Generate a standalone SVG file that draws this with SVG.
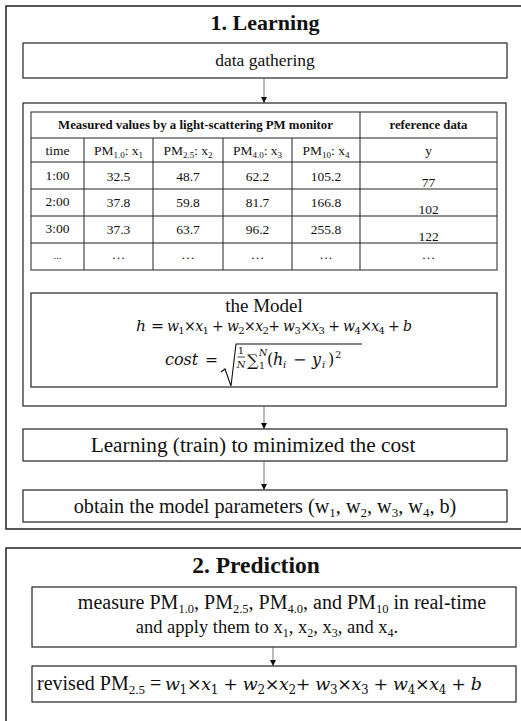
<svg xmlns="http://www.w3.org/2000/svg" width="521" height="721" viewBox="0 0 521 721">
<style>
  .box { fill: #fff; stroke: #222; stroke-width: 1.2; }
  .outer { fill: #fff; stroke: #222; stroke-width: 1.5; }
  .cell { fill: none; stroke: #222; stroke-width: 1; }
  .conn { stroke: #555; stroke-width: 0.8; fill: none; }
  .t { font-family: "Liberation Serif", serif; fill: #111; }
  .m { font-family: "DejaVu Serif", "Liberation Serif", serif; fill: #111; }
  .i { font-style: italic; }
  .c { text-anchor: middle; }
  .b { font-weight: bold; }
  .tab { font-size: 13.5px; }
</style>
<defs>
  <marker id="ah" viewBox="0 0 8 8" refX="8" refY="4" markerWidth="6" markerHeight="6" orient="auto" markerUnits="userSpaceOnUse">
    <path d="M0,0 L8,4 L0,8 z" fill="#111"/>
  </marker>
</defs>

<g id="learning-frame">
  <rect class="outer" x="6" y="6" width="530" height="523"/>
  <text class="t b c" x="265" y="30" font-size="22">1. Learning</text>
</g>

<g id="data-gathering">
  <rect class="box" x="23" y="43" width="484" height="35"/>
  <text class="t c" x="265" y="66" font-size="17.5">data gathering</text>
</g>

<g id="dataset-container">
  <rect class="box" x="23" y="103" width="483" height="303"/>
</g>

<g id="data-table">
  <rect class="cell" x="31" y="112" width="466" height="158"/>
  <path class="cell" d="M31,138H497 M31,162H497 M31,189H497 M31,216H497 M31,243H497 M360,112V270 M84,138V270 M153,138V270 M223,138V270 M292,138V270"/>
  <text class="t b c" x="195.5" y="129" font-size="12.8">Measured values by a light-scattering PM monitor</text>
  <text class="t b c" x="428.5" y="129" font-size="12.8">reference data</text>
  <g class="t tab">
    <text class="c" x="57.5" y="155">time</text>
    <text class="c" x="118.5" y="155">PM<tspan font-size="9" dy="3">1.0</tspan><tspan dy="-3">: x</tspan><tspan font-size="9" dy="3">1</tspan></text>
    <text class="c" x="188" y="155">PM<tspan font-size="9" dy="3">2.5</tspan><tspan dy="-3">: x</tspan><tspan font-size="9" dy="3">2</tspan></text>
    <text class="c" x="257.5" y="155">PM<tspan font-size="9" dy="3">4.0</tspan><tspan dy="-3">: x</tspan><tspan font-size="9" dy="3">3</tspan></text>
    <text class="c" x="326" y="155">PM<tspan font-size="9" dy="3">10</tspan><tspan dy="-3">: x</tspan><tspan font-size="9" dy="3">4</tspan></text>
    <text class="c" x="428.5" y="155">y</text>

    <text class="c" x="57.5" y="180">1:00</text>
    <text class="c" x="118.5" y="181">32.5</text>
    <text class="c" x="188" y="181">48.7</text>
    <text class="c" x="257.5" y="181">62.2</text>
    <text class="c" x="326" y="181">105.2</text>
    <text class="c" x="428.5" y="187">77</text>

    <text class="c" x="57.5" y="206">2:00</text>
    <text class="c" x="118.5" y="207">37.8</text>
    <text class="c" x="188" y="207">59.8</text>
    <text class="c" x="257.5" y="207">81.7</text>
    <text class="c" x="326" y="207">166.8</text>
    <text class="c" x="428.5" y="214">102</text>

    <text class="c" x="57.5" y="233">3:00</text>
    <text class="c" x="118.5" y="234">37.3</text>
    <text class="c" x="188" y="234">63.7</text>
    <text class="c" x="257.5" y="234">96.2</text>
    <text class="c" x="326" y="234">255.8</text>
    <text class="c" x="428.5" y="241">122</text>

    <text class="c" x="57.5" y="259" font-size="10">...</text>
    <text class="c" x="118.5" y="259">…</text>
    <text class="c" x="188" y="259">…</text>
    <text class="c" x="257.5" y="259">…</text>
    <text class="c" x="326" y="259">…</text>
    <text class="c" x="428.5" y="259">…</text>
  </g>
</g>

<g id="model">
  <rect class="box" x="31" y="293" width="466" height="94"/>
  <text class="t c" x="264" y="312" font-size="19">the Model</text>
  <text class="m" x="136" y="331" font-size="15.5"><tspan class="i">h</tspan> =</text>
  <text class="m" x="167" y="331" font-size="14" textLength="245" lengthAdjust="spacing"><tspan class="i">w</tspan><tspan font-size="10" dy="3">1</tspan><tspan dy="-3">×</tspan><tspan class="i">x</tspan><tspan font-size="10" dy="3">1</tspan><tspan dy="-3"> + </tspan><tspan class="i">w</tspan><tspan font-size="10" dy="3">2</tspan><tspan dy="-3">×</tspan><tspan class="i">x</tspan><tspan font-size="10" dy="3">2</tspan><tspan dy="-3">+ </tspan><tspan class="i">w</tspan><tspan font-size="10" dy="3">3</tspan><tspan dy="-3">×</tspan><tspan class="i">x</tspan><tspan font-size="10" dy="3">3</tspan><tspan dy="-3"> + </tspan><tspan class="i">w</tspan><tspan font-size="10" dy="3">4</tspan><tspan dy="-3">×</tspan><tspan class="i">x</tspan><tspan font-size="10" dy="3">4</tspan><tspan dy="-3"> + </tspan><tspan class="i">b</tspan></text>
  <text class="m i" x="165" y="365" font-size="16">cost</text>
  <text class="m" x="205" y="365" font-size="15.5">=</text>
  <polyline points="221,372 225,369 231,386 236,344 362,344" fill="none" stroke="#111" stroke-width="1.1"/>
  <text class="m c" x="241" y="354" font-size="10">1</text>
  <line x1="237.5" y1="357" x2="245" y2="357" stroke="#111" stroke-width="0.8"/>
  <text class="m i c" x="241" y="367.5" font-size="10">N</text>
  <text class="m" x="247" y="366" font-size="16">∑</text>
  <text class="m" x="259" y="369" font-size="9.5">1</text>
  <text class="m i" x="259" y="356" font-size="9.5">N</text>
  <text class="m" y="365" font-size="16"><tspan x="267">(</tspan><tspan class="i" x="273">h</tspan><tspan class="i" font-size="10" x="283" dy="3">i</tspan><tspan x="293" dy="-3">−</tspan><tspan class="i" x="312">y</tspan><tspan class="i" font-size="10" x="322" dy="3">i</tspan><tspan x="328" dy="-3">)</tspan><tspan font-size="10" x="335" dy="-7">2</tspan></text>
</g>

<g id="train">
  <rect class="box" x="23" y="429" width="484" height="32"/>
  <text class="t c" x="253" y="452" font-size="21.3">Learning (train) to minimized the cost</text>
</g>

<g id="obtain-params">
  <rect class="box" x="23" y="490" width="484" height="32"/>
  <text class="t c" x="265" y="513" font-size="20.2">obtain the model parameters (w<tspan font-size="13" dy="4">1</tspan><tspan dy="-4">, w</tspan><tspan font-size="13" dy="4">2</tspan><tspan dy="-4">, w</tspan><tspan font-size="13" dy="4">3</tspan><tspan dy="-4">, w</tspan><tspan font-size="13" dy="4">4</tspan><tspan dy="-4">, b)</tspan></text>
</g>

<g id="prediction-frame">
  <rect class="outer" x="6" y="548" width="530" height="190"/>
  <text class="t b c" x="256" y="573" font-size="23.5">2. Prediction</text>
</g>

<g id="measure">
  <rect class="box" x="32" y="587" width="484" height="60"/>
  <text class="t c" x="282" y="609" font-size="20">measure PM<tspan font-size="12.5" dy="4">1.0</tspan><tspan dy="-4">, PM</tspan><tspan font-size="12.5" dy="4">2.5</tspan><tspan dy="-4">, PM</tspan><tspan font-size="12.5" dy="4">4.0</tspan><tspan dy="-4">, and PM</tspan><tspan font-size="12.5" dy="4">10</tspan><tspan dy="-4"> in real-time</tspan></text>
  <text class="t c" x="267" y="633" font-size="18.5">and apply them to x<tspan font-size="12" dy="4">1</tspan><tspan dy="-4">, x</tspan><tspan font-size="12" dy="4">2</tspan><tspan dy="-4">, x</tspan><tspan font-size="12" dy="4">3</tspan><tspan dy="-4">, and x</tspan><tspan font-size="12" dy="4">4</tspan><tspan dy="-4">.</tspan></text>
</g>

<g id="revised">
  <rect class="box" x="32" y="666" width="484" height="36"/>
  <text class="t" x="37" y="690" font-size="20">revised PM<tspan font-size="13" dy="4">2.5</tspan><tspan dy="-4"> =</tspan></text>
  <text class="m" x="165" y="690" font-size="17.5" textLength="317" lengthAdjust="spacing"><tspan class="i">w</tspan><tspan font-size="12" dy="4">1</tspan><tspan dy="-4">×</tspan><tspan class="i">x</tspan><tspan font-size="12" dy="4">1</tspan><tspan dy="-4"> + </tspan><tspan class="i">w</tspan><tspan font-size="12" dy="4">2</tspan><tspan dy="-4">×</tspan><tspan class="i">x</tspan><tspan font-size="12" dy="4">2</tspan><tspan dy="-4">+ </tspan><tspan class="i">w</tspan><tspan font-size="12" dy="4">3</tspan><tspan dy="-4">×</tspan><tspan class="i">x</tspan><tspan font-size="12" dy="4">3</tspan><tspan dy="-4"> + </tspan><tspan class="i">w</tspan><tspan font-size="12" dy="4">4</tspan><tspan dy="-4">×</tspan><tspan class="i">x</tspan><tspan font-size="12" dy="4">4</tspan><tspan dy="-4"> + </tspan><tspan class="i">b</tspan></text>
</g>

<g id="connectors">
  <line class="conn" x1="264" y1="78" x2="264" y2="103" marker-end="url(#ah)"/>
  <line class="conn" x1="264" y1="406" x2="264" y2="429" marker-end="url(#ah)"/>
  <line class="conn" x1="264" y1="461" x2="264" y2="490" marker-end="url(#ah)"/>
  <line class="conn" x1="273" y1="647" x2="273" y2="666" marker-end="url(#ah)"/>
</g>
</svg>
